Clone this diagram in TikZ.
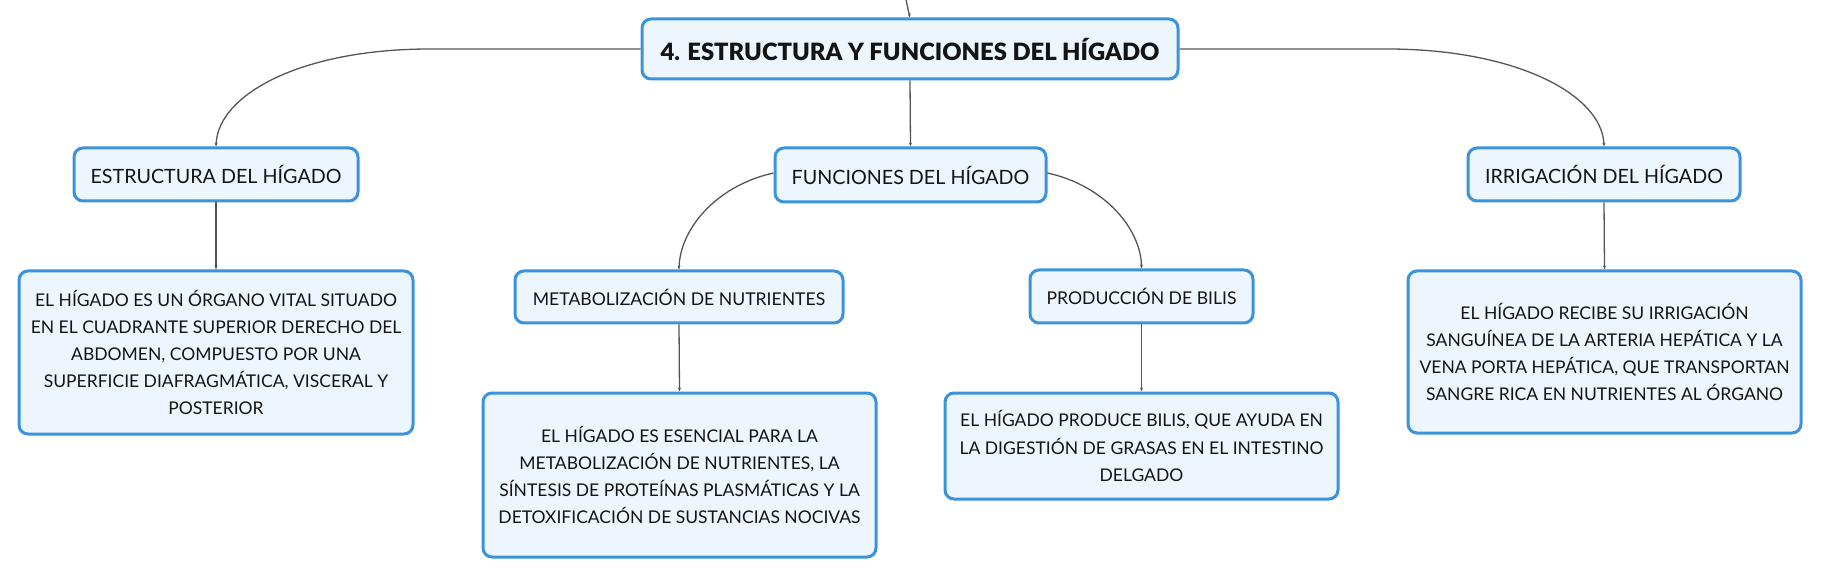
\documentclass[tikz,border=0pt]{standalone}
\usepackage{fontspec}
\setmainfont{Lato}
\newfontfamily\heavyfont{Lato Black}
\usetikzlibrary{arrows.meta}
\definecolor{boxblue}{HTML}{3A93DC}
\definecolor{boxfill}{HTML}{EEF6FD}
\definecolor{linegray}{HTML}{555555}
\tikzset{
  box/.style={draw=boxblue, fill=boxfill, line width=3pt, rounded corners=9pt, align=center, inner sep=0pt, text=black!92},
  topic/.style={box, font=\fontsize{19.7}{24}\selectfont},
  subtopic/.style={box, font=\fontsize{17.6}{22}\selectfont},
  desc/.style={box, font=\fontsize{17.5}{27.2}\selectfont},
  rootbox/.style={box, font=\fontsize{23.8}{28}\selectfont\heavyfont},
  conn/.style={draw=linegray, line width=1.3pt, -{Stealth[length=4pt,width=3pt]}},
}
\begin{document}
\begin{tikzpicture}[x=1pt,y=-1pt]
\useasboundingbox (0,0) rectangle (1821,577);
\node[rootbox, minimum width=536pt, minimum height=60pt] (root) at (910,49) {4. ESTRUCTURA Y FUNCIONES DEL HÍGADO};
\node[topic, minimum width=284pt, minimum height=53pt] (estr) at (216,174.5) {ESTRUCTURA DEL HÍGADO};
\node[topic, minimum width=271pt, minimum height=54pt] (func) at (910.5,175) {FUNCIONES DEL HÍGADO};
\node[topic, minimum width=272pt, minimum height=53pt] (irr) at (1604,174.5) {IRRIGACIÓN DEL HÍGADO};
\node[subtopic, minimum width=328pt, minimum height=52pt] (metab) at (679,297) {METABOLIZACIÓN DE NUTRIENTES};
\node[subtopic, minimum width=223pt, minimum height=53pt] (prod) at (1141.5,296.5) {PRODUCCIÓN DE BILIS};
\node[desc, minimum width=394pt, minimum height=163pt] (d1) at (216,352.5) {EL HÍGADO ES UN ÓRGANO VITAL SITUADO\\EN EL CUADRANTE SUPERIOR DERECHO DEL\\ABDOMEN, COMPUESTO POR UNA\\SUPERFICIE DIAFRAGMÁTICA, VISCERAL Y\\POSTERIOR};
\node[desc, minimum width=393pt, minimum height=164pt] (d2) at (679.5,475) {EL HÍGADO ES ESENCIAL PARA LA\\METABOLIZACIÓN DE NUTRIENTES, LA\\SÍNTESIS DE PROTEÍNAS PLASMÁTICAS Y LA\\DETOXIFICACIÓN DE SUSTANCIAS NOCIVAS};
\node[desc, minimum width=393pt, minimum height=106pt] (d3) at (1141.5,446) {EL HÍGADO PRODUCE BILIS, QUE AYUDA EN\\LA DIGESTIÓN DE GRASAS EN EL INTESTINO\\DELGADO};
\node[desc, minimum width=393pt, minimum height=162pt] (d4) at (1604.5,352) {EL HÍGADO RECIBE SU IRRIGACIÓN\\SANGUÍNEA DE LA ARTERIA HEPÁTICA Y LA\\VENA PORTA HEPÁTICA, QUE TRANSPORTAN\\SANGRE RICA EN NUTRIENTES AL ÓRGANO};
\coordinate (up) at (904,-12);
\coordinate (lbend) at (430,49);
\coordinate (rbend) at (1387,49);
\draw[conn] (up) .. controls (907,5) .. (root.north);
\draw[conn] (root.west) -- (lbend) .. controls (300,49) and (218,95) .. (estr.north);
\draw[conn] (root.east) -- (rbend) .. controls (1517,49) and (1602,95) .. (irr.north);
\draw[conn] (root.south) -- (func.north);
\draw[conn] ([yshift=2pt]func.west) .. controls (715,186) and (680,230) .. (metab.north);
\draw[conn] ([yshift=2pt]func.east) .. controls (1106,186) and (1141,230) .. (prod.north);
\draw[conn] (estr.south) -- (d1.north);
\draw[conn] (metab.south) -- (d2.north);
\draw[conn] (prod.south) -- (d3.north);
\draw[conn] (irr.south) -- (d4.north);
\end{tikzpicture}
\end{document}
